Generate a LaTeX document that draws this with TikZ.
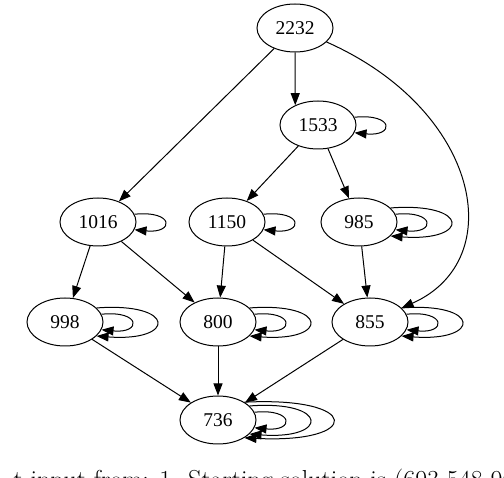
\documentclass[tikz,border=0pt]{standalone}
\usepackage{fontspec}
\newfontfamily\statefont{Liberation Serif}
\usetikzlibrary{arrows.meta,shapes.geometric}

\begin{document}
\begin{tikzpicture}[x=1pt,y=-1pt,>={Triangle[length=12pt,width=9pt]},line width=1pt,
  state/.style={draw,ellipse,minimum width=76pt,minimum height=48pt,inner sep=0pt,
    font=\statefont\fontsize{19.5}{20}\selectfont}]
\clip (0,0) rectangle (504,478);
% states
\node[state] (v2232) at (295,28) {2232};
\node[state] (v1533) at (318,125) {1533};
\node[state] (v1016) at (98,222) {1016};
\node[state] (v1150) at (227,222) {1150};
\node[state] (v985) at (359,222) {985};
\node[state] (v998) at (65,322) {998};
\node[state] (v800) at (218,322) {800};
\node[state] (v855) at (370,322) {855};
\node[state] (v736) at (218,420) {736};
% transitions
\draw[->] (v2232) -- (v1533.139);
\draw[->] (v2232) -- (v1016);
\draw[->] (v2232) .. controls (480,110) and (510,260) .. (v855);
\draw[->] (v1533) -- (v1150);
\draw[->] (v1533) -- (v985);
\draw[->] (v1016) -- (v998);
\draw[->] (v1016) -- (v800);
\draw[->] (v1150) -- (v800);
\draw[->] (v1150) -- (v855);
\draw[->] (v985) -- (v855);
\draw[->] (v998) -- (v736);
\draw[->] (v800) -- (v736);
\draw[->] (v855) -- (v736);
% self loops
\foreach \v in {1533,1016,1150,985,998,800,855,736}
  \draw[->] (v\v.12) .. controls +(40,-4) and +(40,4) .. (v\v.-12);
\foreach \v in {985,998,800,855,736}
  \draw[->] (v\v.24) .. controls +(80,-6) and +(80,6) .. (v\v.-24);
\draw[->] (v736.34) .. controls +(118,-6) and +(118,6) .. (v736.-34);
% caption, cut by the page
\node[anchor=base west,inner sep=0pt,font=\fontsize{26}{30}\selectfont] (caption) at (13,489)
  {t input from: 1. Starting solution is (693 548 96};
\end{tikzpicture}
\end{document}
